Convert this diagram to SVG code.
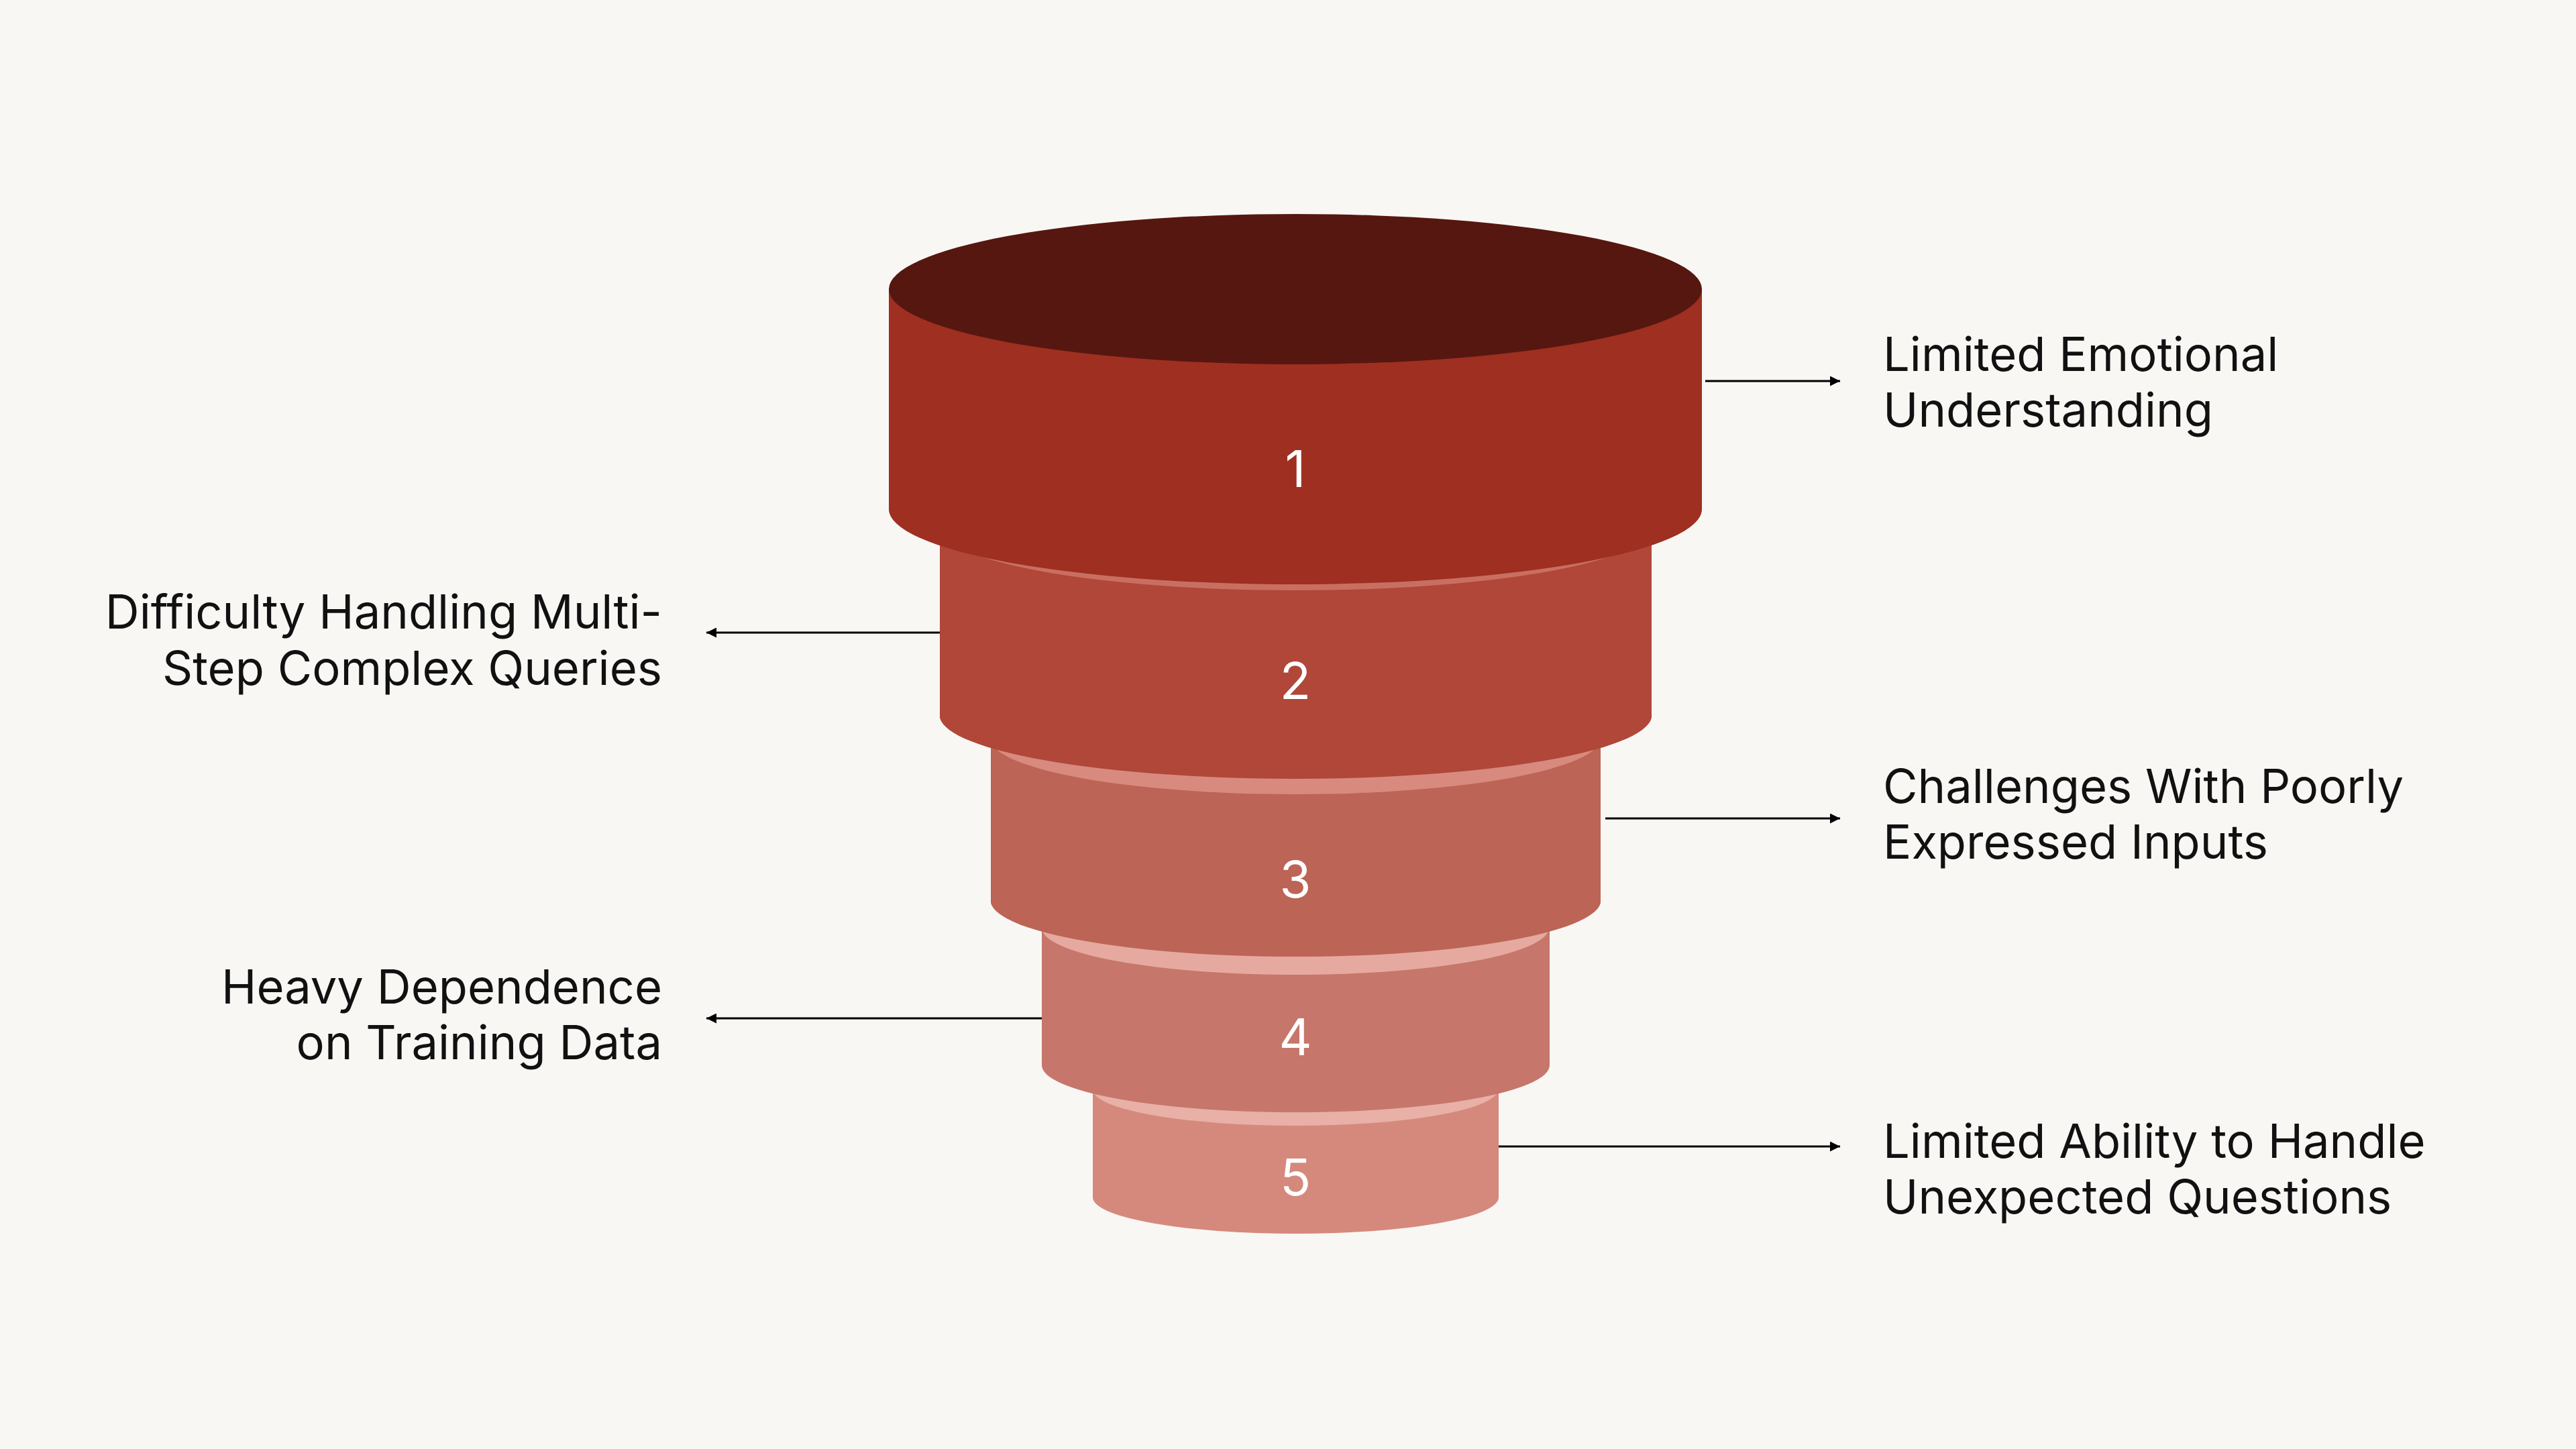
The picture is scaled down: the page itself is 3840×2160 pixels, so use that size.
<svg xmlns="http://www.w3.org/2000/svg" width="3840" height="2160" viewBox="0 0 3840 2160">
<defs>
<marker id="ah" viewBox="0 0 10 10" refX="10" refY="5" markerWidth="5" markerHeight="5" orient="auto" markerUnits="strokeWidth"><path d="M0,0 L10,5 L0,10 Z" fill="#000"/></marker>
<style>
.lbl{font-family:Inter,"Liberation Sans",sans-serif;font-size:70.5px;fill:#111}
.num{font-family:Inter,"Liberation Sans",sans-serif;font-size:76px;fill:#fff;text-anchor:middle}
.ar{stroke:#000;stroke-width:3;fill:none;marker-end:url(#ah)}
</style>
</defs>
<rect width="3840" height="2160" fill="#F8F7F4"/>
<g id="seg5">
<path d="M1629,1624 L1629,1785 A302,54 0 0 0 2234,1785 L2234,1624 Z" fill="#D5897C"/>
<ellipse cx="1931" cy="1624" rx="302" ry="54" fill="#E8B0A6"/>
<text class="num" x="1931" y="1782">5</text>
</g>
<g id="seg4">
<path d="M1553,1383 L1553,1588 A378,70 0 0 0 2310,1588 L2310,1383 Z" fill="#C6766A"/>
<ellipse cx="1931" cy="1383" rx="378" ry="70" fill="#E6A99F"/>
<text class="num" x="1931" y="1573">4</text>
</g>
<g id="seg3">
<path d="M1477,1100 L1477,1346 A455,84 0 0 0 2386,1346 L2386,1100 Z" fill="#BC6456"/>
<ellipse cx="1931" cy="1100" rx="455" ry="84" fill="#D88A7E"/>
<text class="num" x="1931" y="1338">3</text>
</g>
<g id="seg2">
<path d="M1401,785 L1401,1070 A531,95 0 0 0 2462,1070 L2462,785 Z" fill="#B04738"/>
<ellipse cx="1931" cy="785" rx="531" ry="95" fill="#C96F62"/>
<text class="num" x="1931" y="1042">2</text>
</g>
<g id="seg1">
<path d="M1325,431 L1325,759 A606,112 0 0 0 2537,759 L2537,431 Z" fill="#9E2F21"/>
<ellipse cx="1931" cy="431" rx="606" ry="112" fill="#561710"/>
<text class="num" x="1931" y="726">1</text>
</g>
<g id="connectors">
<line class="ar" x1="2542" y1="568" x2="2743" y2="568"/>
<line class="ar" x1="1401" y1="943" x2="1053" y2="943"/>
<line class="ar" x1="2393" y1="1220" x2="2743" y2="1220"/>
<line class="ar" x1="1553" y1="1518" x2="1053" y2="1518"/>
<line class="ar" x1="2234" y1="1709" x2="2743" y2="1709"/>
</g>
<g id="labels">
<text class="lbl" x="2807" y="553">Limited Emotional</text>
<text class="lbl" x="2807" y="636">Understanding</text>
<text class="lbl" x="987" y="937" text-anchor="end">Difficulty Handling Multi-</text>
<text class="lbl" x="987" y="1021" text-anchor="end">Step Complex Queries</text>
<text class="lbl" x="2807" y="1197">Challenges With Poorly</text>
<text class="lbl" x="2807" y="1280">Expressed Inputs</text>
<text class="lbl" x="987" y="1496" text-anchor="end">Heavy Dependence</text>
<text class="lbl" x="987" y="1579" text-anchor="end">on Training Data</text>
<text class="lbl" x="2807" y="1726">Limited Ability to Handle</text>
<text class="lbl" x="2807" y="1809">Unexpected Questions</text>
</g>
</svg>
